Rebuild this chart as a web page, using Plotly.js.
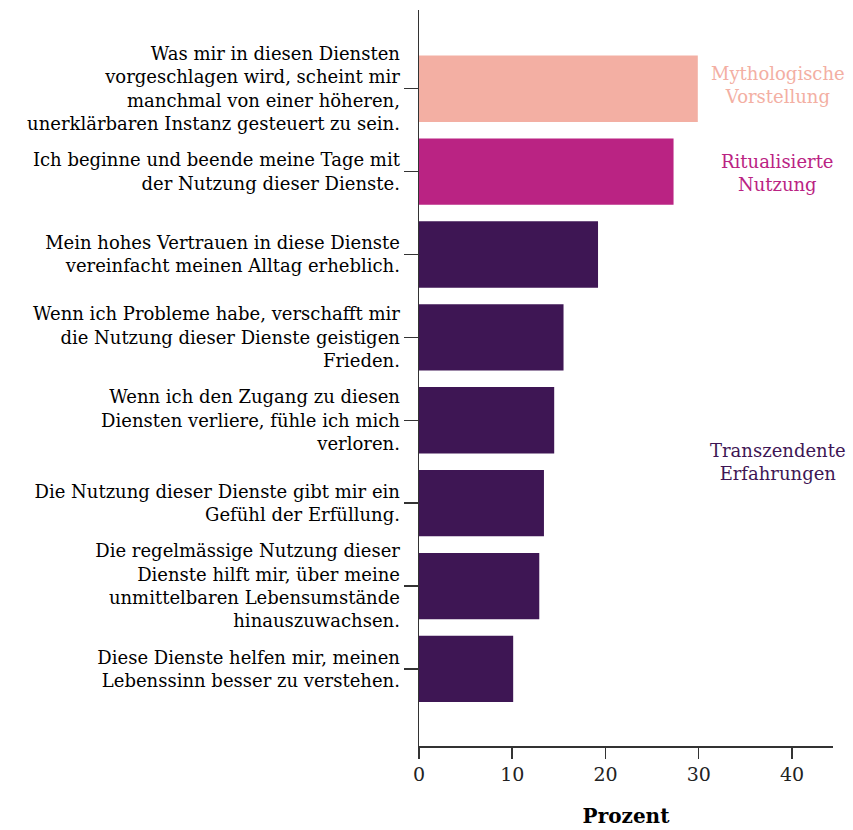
<!DOCTYPE html>
<html>
<head>
<meta charset="utf-8">
<script src="https://cdn.plot.ly/plotly-3.0.1.min.js"></script>
<style>body{margin:0;background:#fff}#chart{width:853px;height:830px}</style>
</head>
<body>
<div id="chart"></div>
<script>
const categories = [
  "Was mir in diesen Diensten<br>vorgeschlagen wird, scheint mir<br>manchmal von einer höheren,<br>unerklärbaren Instanz gesteuert zu sein.",
  "Ich beginne und beende meine Tage mit<br>der Nutzung dieser Dienste.",
  "Mein hohes Vertrauen in diese Dienste<br>vereinfacht meinen Alltag erheblich.",
  "Wenn ich Probleme habe, verschafft mir<br>die Nutzung dieser Dienste geistigen<br>Frieden.",
  "Wenn ich den Zugang zu diesen<br>Diensten verliere, fühle ich mich<br>verloren.",
  "Die Nutzung dieser Dienste gibt mir ein<br>Gefühl der Erfüllung.",
  "Die regelmässige Nutzung dieser<br>Dienste hilft mir, über meine<br>unmittelbaren Lebensumstände<br>hinauszuwachsen.",
  "Diese Dienste helfen mir, meinen<br>Lebenssinn besser zu verstehen."
];
const values = [29.9, 27.3, 19.2, 15.5, 14.5, 13.4, 12.9, 10.1];
const groups = ["myth", "rit", "trans", "trans", "trans", "trans", "trans", "trans"];
const groupColors = {myth: "#F3AFA3", rit: "#BA2383", trans: "#3E1654"};
const groupLabels = [
  {text: "Mythologische<br>Vorstellung", color: "#F3AFA3", pos: -0.04},
  {text: "Ritualisierte<br>Nutzung", color: "#BA2383", pos: 1.02},
  {text: "Transzendente<br>Erfahrungen", color: "#3E1654", pos: 4.5}
];
const xTicks = [0, 10, 20, 30, 40];

const font = "DejaVu Serif, serif";
const idx = categories.map((_, i) => i);

const trace = {
  type: "bar",
  orientation: "h",
  x: values,
  y: idx,
  width: 0.8,
  marker: {color: groups.map(g => groupColors[g])},
  hoverinfo: "x"
};

const layout = {
  width: 853, height: 830,
  margin: {l: 419, r: 20, t: 10, b: 84},
  paper_bgcolor: "#fff", plot_bgcolor: "#fff",
  font: {family: font, size: 18, color: "#000"},
  showlegend: false,
  xaxis: {
    range: [0, 44.4],
    tickvals: xTicks,
    ticktext: xTicks.map(String),
    ticks: "outside", ticklen: 11, tickcolor: "#333", tickwidth: 1.5,
    showline: true, linecolor: "#333", linewidth: 1.5,
    showgrid: false, zeroline: false,
    tickfont: {family: font, size: 19, color: "#222"},
    title: {text: "<b>Prozent</b>", font: {family: font, size: 20, color: "#000"}, standoff: 24}
  },
  yaxis: {
    range: [7.93, -0.95],
    tickvals: idx,
    ticktext: categories,
    ticks: "outside", ticklen: 14, tickcolor: "#333", tickwidth: 1.5,
    showline: true, linecolor: "#333", linewidth: 1.5,
    showgrid: false, zeroline: false,
    tickfont: {family: font, size: 18, color: "#000"}
  },
  annotations: groupLabels.map(g => ({
    x: 38.5, y: g.pos, xref: "x", yref: "y",
    text: g.text, showarrow: false, align: "center",
    font: {family: font, size: 18, color: g.color}
  }))
};

Plotly.newPlot("chart", [trace], layout, {displayModeBar: false, staticPlot: true});
</script>
</body>
</html>
